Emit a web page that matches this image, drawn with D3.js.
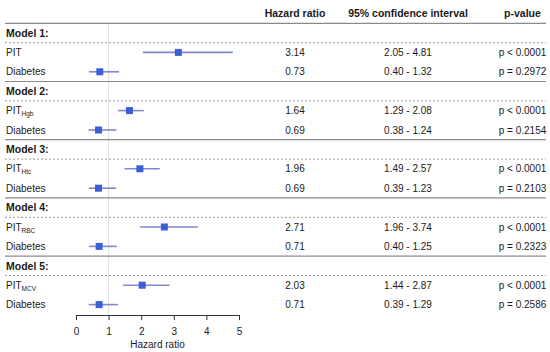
<!DOCTYPE html>
<html>
<head>
<meta charset="utf-8">
<script src="https://cdn.jsdelivr.net/npm/d3@7"></script>
<style>
  body { margin: 0; background: #fff; }
  svg { display: block; font-family: "Liberation Sans", Arial, Helvetica, sans-serif; }
</style>
</head>
<body>
<svg id="chart" width="550" height="352"></svg>
<script>
// ---- data ----
const models = ["Model 1:", "Model 2:", "Model 3:", "Model 4:", "Model 5:"];
const varMain = ["PIT", "Diabetes", "PIT", "Diabetes", "PIT", "Diabetes", "PIT", "Diabetes", "PIT", "Diabetes"];
const varSub  = ["", "", "Hgb", "", "Htc", "", "RBC", "", "MCV", ""];
const hr      = [3.14, 0.73, 1.64, 0.69, 1.96, 0.69, 2.71, 0.71, 2.03, 0.71];
const ciLow   = [2.05, 0.40, 1.29, 0.38, 1.49, 0.39, 1.96, 0.40, 1.44, 0.39];
const ciHigh  = [4.81, 1.32, 2.08, 1.24, 2.57, 1.23, 3.74, 1.25, 2.87, 1.29];
const pText   = ["p < 0.0001", "p = 0.2972", "p < 0.0001", "p = 0.2154", "p < 0.0001",
                 "p = 0.2103", "p < 0.0001", "p = 0.2323", "p < 0.0001", "p = 0.2586"];
const headers = ["Hazard ratio", "95% confidence interval", "p-value"];
const xTicks  = [0, 1, 2, 3, 4, 5];
const axisTitle = "Hazard ratio";

// ---- layout ----
const svg = d3.select("#chart");
const x = d3.scaleLinear().domain([0, 5]).range([76, 239]);
const y = d3.scaleLinear().domain([0, 1]).range([13.6, 33.0]); // row index -> y
const colX = [295, 408, 522.5];
const lineX0 = 5, lineX1 = 546;
const axisY = 315;
const ink = "#1a1a1a";

const titleRow = m => 1 + 3 * m;
const varRow = i => 2 + 3 * Math.floor(i / 2) + (i % 2);

// reference line at HR = 1
svg.append("line")
  .attr("x1", x(1)).attr("x2", x(1))
  .attr("y1", (y(0) + y(1)) / 2).attr("y2", axisY)
  .attr("stroke", "#e0e0e0").attr("stroke-width", 1);

// separator lines
svg.append("line")
  .attr("x1", lineX0).attr("x2", lineX1)
  .attr("y1", y(0.5)).attr("y2", y(0.5))
  .attr("stroke", "#8a8a8a").attr("stroke-width", 1.2);

models.forEach((m, k) => {
  const r = titleRow(k);
  svg.append("line")
    .attr("x1", lineX0).attr("x2", lineX1)
    .attr("y1", y(r + 0.5)).attr("y2", y(r + 0.5))
    .attr("stroke", "#9a9a9a").attr("stroke-width", 1)
    .attr("stroke-dasharray", "2,2");
  if (k < models.length - 1) {
    svg.append("line")
      .attr("x1", lineX0).attr("x2", lineX1)
      .attr("y1", y(r + 2.5)).attr("y2", y(r + 2.5))
      .attr("stroke", "#8a8a8a").attr("stroke-width", 1.2);
  }
  svg.append("text")
    .attr("x", lineX0 + 1).attr("y", y(r)).attr("dy", "0.36em")
    .attr("font-size", 10.5).attr("font-weight", "bold").attr("fill", ink)
    .text(m);
});

// headers
headers.forEach((h, j) => {
  svg.append("text")
    .attr("x", colX[j]).attr("y", y(0)).attr("dy", "0.36em")
    .attr("text-anchor", "middle")
    .attr("font-size", 10.5).attr("font-weight", "bold").attr("fill", ink)
    .text(h);
});

// variable rows
hr.forEach((v, i) => {
  const yy = y(varRow(i));
  const t = svg.append("text")
    .attr("x", lineX0 + 1).attr("y", yy).attr("dy", "0.36em")
    .attr("font-size", 10).attr("fill", ink);
  t.append("tspan").text(varMain[i]);
  if (varSub[i]) {
    t.append("tspan").attr("font-size", 6.5).attr("dy", 2).text(varSub[i]);
  }

  svg.append("line")
    .attr("x1", x(ciLow[i])).attr("x2", x(ciHigh[i]))
    .attr("y1", yy).attr("y2", yy)
    .attr("stroke", "#8088d0").attr("stroke-width", 1.6);
  const s = 7;
  svg.append("rect")
    .attr("x", x(v) - s / 2).attr("y", yy - s / 2)
    .attr("width", s).attr("height", s)
    .attr("fill", "#3a5fd9");

  const vals = [v.toFixed(2), ciLow[i].toFixed(2) + " - " + ciHigh[i].toFixed(2), pText[i]];
  vals.forEach((tv, j) => {
    svg.append("text")
      .attr("x", colX[j]).attr("y", yy).attr("dy", "0.36em")
      .attr("text-anchor", "middle")
      .attr("font-size", 10).attr("fill", ink)
      .text(tv);
  });
});

// axis
const axis = d3.axisBottom(x).tickValues(xTicks).tickFormat(d3.format("d"))
  .tickSize(5).tickSizeOuter(0).tickPadding(8);
const g = svg.append("g").attr("transform", `translate(0,${axisY})`).call(axis);
g.select(".domain").attr("stroke", "#333");
g.selectAll(".tick line").attr("stroke", "#333");
g.selectAll(".tick text").attr("font-size", 10).attr("fill", ink)
  .attr("font-family", "Liberation Sans, Arial, sans-serif");

svg.append("text")
  .attr("x", (x(0) + x(5)) / 2).attr("y", 344).attr("dy", "0.36em")
  .attr("text-anchor", "middle").attr("font-size", 10).attr("fill", ink)
  .text(axisTitle);
</script>
</body>
</html>
